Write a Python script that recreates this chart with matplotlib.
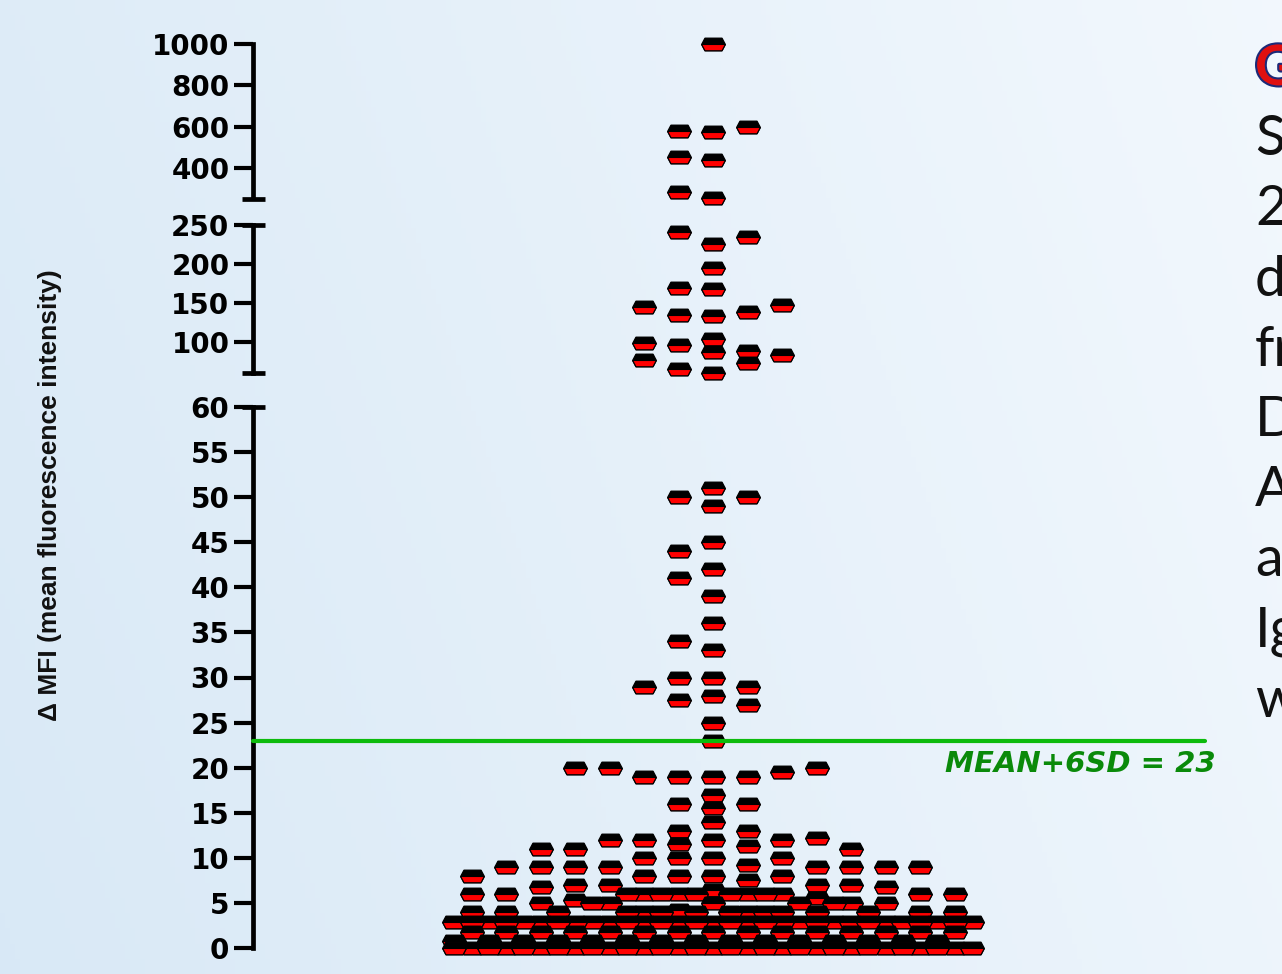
import numpy as np
import matplotlib.pyplot as plt
from matplotlib.path import Path
import matplotlib.patheffects as pe

# delta MFI per sample, split by the three y-axis segments
mfi_high = [1000, 572, 580, 600, 439, 454, 252, 280]
mfi_mid = [225.7, 240.6, 234.7, 194.6, 167.8, 169.8, 133.6, 134.9, 139.1, 145.5, 147.7,
           86.9, 97.1, 88.6, 104.7, 99.5, 61.1, 65.9, 73.1, 77.4, 83.8]
mfi_low = [49, 50, 50, 51, 45, 44, 42, 41, 39, 36, 33, 34, 30, 30, 29, 29, 28, 27.5, 27, 25, 23,
           19, 19, 19, 19, 19.5, 20, 20, 20, 17, 16, 16, 15.5, 14, 13, 13,
           12, 12, 12, 12, 12.2, 11.5, 11.3, 11, 11, 11, 10, 10, 10, 10,
           9.2, 9, 9, 9, 9, 9, 9, 9, 9, 8, 8, 8, 8, 8, 7.5, 7, 7, 7, 7, 6.8, 6.8, 6.4]
# crowded bottom of the distribution: level and number of samples at it
dense_levels = [6, 5.5, 5.3, 5, 4.2, 4, 2.9, 1.8, 0.8, 0]
dense_counts = [13, 1, 1, 8, 1, 15, 31, 15, 15, 31]

threshold = 23
side_lines = ['G', 'S', '2', 'd', 'fr', 'D', 'A', 'a', 'Ig', 'w']

W, H = 1282, 974
fig = plt.figure(figsize=(W / 100, H / 100), dpi=100)

# pale blue slide background
bg = fig.add_axes([0, 0, 1, 1], zorder=-10)
xx, yy = np.meshgrid(np.linspace(0, 1, 256), np.linspace(1, 0, 64))
t = np.clip(0.8 * xx + 0.2 * yy, 0, 1)[..., None]
dark = np.array([0.85, 0.913, 0.965])
light = np.array([0.95, 0.972, 0.993])
bg.imshow(dark + (light - dark) * t, aspect='auto', extent=[0, 1, 0, 1])
bg.axis('off')

left = 253 / W
width = 1 - left
# (bottom px, top px) of each axis segment, measured from the top of the figure
ax_low = fig.add_axes([left, 1 - 948 / H, width, (948 - 407) / H])
ax_mid = fig.add_axes([left, 1 - 373.5 / H, width, (373.5 - 225) / H])
ax_high = fig.add_axes([left, 1 - 198.5 / H, width, (198.5 - 44.3) / H])

col_px = 34.5
xlim = ((253 - 713) / col_px, (W - 713) / col_px)

segments = [
    (ax_low, (0, 60), np.arange(0, 61, 5), (False, True)),
    (ax_mid, (60, 250), [100, 150, 200, 250], (True, True)),
    (ax_high, (250, 1000), [400, 600, 800, 1000], (True, False)),
]
for ax, ylim, ticks, caps in segments:
    ax.set_facecolor('none')
    ax.set_xlim(xlim)
    ax.set_ylim(ylim)
    ax.set_yticks(ticks)
    ax.set_xticks([])
    for side in ['top', 'right', 'bottom']:
        ax.spines[side].set_visible(False)
    ax.spines['left'].set_linewidth(3.4)
    ax.tick_params(axis='y', length=13.5, width=3, pad=3.5, labelsize=20)
    for lab in ax.get_yticklabels():
        lab.set_fontweight('bold')
        lab.set_fontfamily('DejaVu Sans')
    # T-shaped ends of the broken axis
    for at, show in zip((0, 1), caps):
        if show:
            ax.plot([-0.0105, 0.0115], [at, at], transform=ax.transAxes, color='black',
                    lw=3.4, solid_capstyle='butt', clip_on=False)

hexagon = Path([(-1, 0), (-0.72, 0.53), (0.72, 0.53), (1, 0), (0.72, -0.53), (-0.72, -0.53), (-1, 0)],
               closed=True)
lower_half = Path([(-1, 0), (1, 0), (0.72, -0.53), (-0.72, -0.53), (-1, 0)], closed=True)


def swarm(values, px_per_unit, h=12.0):
    ints = [0]
    halves = [0]
    for k in range(1, 8):
        ints += [-k, k]
    for k in range(1, 16):
        halves += [-k / 2, k / 2]
    tries = ((ints, 1.0, h), (halves, 0.5, h), (ints, 0.5, h / 2), (halves, 0.5, h / 2))
    xs, ys = [], []
    for v in values:
        y = v * px_per_unit
        pick = None
        for slots, dx_min, dy_min in tries:
            for s in slots:
                if all(abs(s - a) >= dx_min or abs(y - b) >= dy_min for a, b in zip(xs, ys)):
                    pick = s
                    break
            if pick is not None:
                break
        if pick is None:
            pick = max(halves, key=lambda s: min([abs(y - b) for a, b in zip(xs, ys) if a == s] or [1e9]))
        xs.append(pick)
        ys.append(y)
    return np.array(xs)


low_all = list(mfi_low) + list(np.repeat(dense_levels, dense_counts))
for ax, vals in ((ax_high, mfi_high), (ax_mid, mfi_mid), (ax_low, low_all)):
    y0, y1 = ax.get_ylim()
    px_per_unit = ax.get_position().height * H / (y1 - y0)
    xs = swarm(vals, px_per_unit)
    for i, (x, v) in enumerate(zip(xs, vals)):
        ax.plot(x, v, ls='none', marker=hexagon, ms=17, mfc='black', mec='black', mew=1.0,
                clip_on=False, zorder=3 + i * 0.001)
        ax.plot(x, v, ls='none', marker=lower_half, ms=17, mfc='#ff0000', mec='black', mew=0.8,
                clip_on=False, zorder=3 + i * 0.001 + 0.0005)

ax_low.axhline(threshold, xmin=0, xmax=(1205 - 253) / (W - 253), color='#0dbb0d', lw=3,
               solid_capstyle='round', zorder=5, clip_on=False)
ax_low.text((945 - 713) / col_px, threshold - 2.6, f'MEAN+6SD = {threshold}', color='#0a8a0a',
            fontsize=21, fontweight='bold', fontstyle='italic', family='DejaVu Sans',
            ha='left', va='center', zorder=6)

fig.text(50 / W, 1 - 495 / H, '\u0394 MFI (mean fluorescence intensity)', rotation=90,
         ha='center', va='center', fontsize=19, fontweight='bold', family='Liberation Sans',
         color='#111111')

# text of the slide next to the chart, cut off by the right edge
for i, s in enumerate(side_lines):
    y = 1 - (85 + 70.2 * i) / H
    if i == 0:
        fig.text(1255 / W, y, s, fontsize=40, fontweight='bold', color='#e01010', family='Lato',
                 va='baseline', path_effects=[pe.withStroke(linewidth=3, foreground='#1c2a78')])
    else:
        fig.text(1255 / W, y, s, fontsize=40, color='#111111', family='Lato', va='baseline')

fig.savefig('out.png', dpi=100)
